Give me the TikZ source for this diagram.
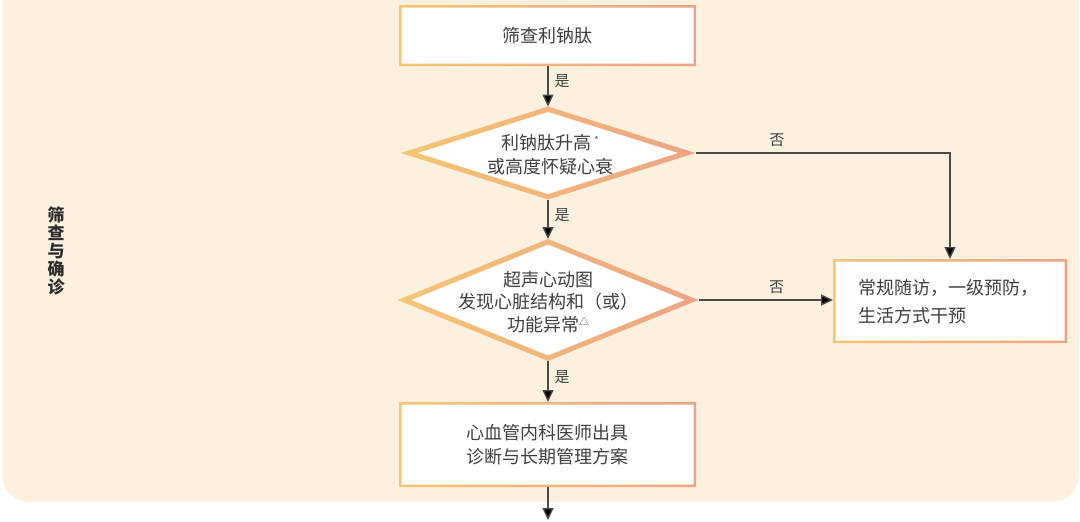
\documentclass[tikz,border=0pt]{standalone}
\usepackage{fontspec}
\setmainfont{Noto Sans CJK SC}
\usetikzlibrary{arrows.meta,shapes.geometric,calc}
\definecolor{panel}{HTML}{FBF1DE}
\definecolor{gl}{HTML}{F6C673}
\definecolor{gr}{HTML}{EEA383}
\definecolor{txt}{HTML}{404040}
\definecolor{ln}{HTML}{4A4A4A}
\begin{document}
\begin{tikzpicture}[x=1pt,y=-1pt,
  box/.style={rectangle, fill=white, inner sep=0pt, outer sep=0pt, text=txt, align=center},
  dia/.style={diamond, fill=white, inner sep=0pt, outer sep=0pt},
  dtext/.style={text=txt, align=center, inner sep=0pt},
  lbl/.style={text=txt, font=\fontsize{15}{18}\selectfont, inner sep=0pt},
  arr/.style={draw=ln, line width=1.4pt, -{Triangle[length=12pt,width=11pt,fill=black]}},
  ring/.style={left color=gl, right color=gr, even odd rule}
]
\useasboundingbox (0,0) rectangle (1080,522);
\fill[panel, rounded corners=27pt] (2,-40) rectangle (1079,502);

% side label
\node[text=txt!70!black, font=\fontsize{17}{17.8}\selectfont\bfseries, align=center, inner sep=0pt] (side) at (56,251) {筛\\查\\与\\确\\诊};

% nodes
\node[box, minimum width=297pt, minimum height=61pt, font=\fontsize{18}{24}\selectfont] (b1) at (547.5,35.5) {筛查利钠肽};
\node[dia, minimum width=295pt, minimum height=93pt] (d1) at (548,153) {};
\node[dtext, font=\fontsize{18}{24}\selectfont] (d1t) at (550,155) {利钠肽升高\hspace{3pt}\raisebox{6pt}{\fontsize{9}{9}\selectfont *}\\或高度怀疑心衰};
\node[dia, minimum width=301pt, minimum height=122pt] (d2) at (548,300) {};
\node[dtext, font=\fontsize{18}{22.5}\selectfont] (d2t) at (548,302) {超声心动图\\发现心脏结构和（或）\\功能异常\raisebox{6pt}{\fontsize{10}{10}\selectfont △}};
\node[box, minimum width=234pt, minimum height=84pt] (rb) at (950,301) {};
\node[text=txt, align=left, inner sep=0pt, anchor=west, font=\fontsize{18}{28}\selectfont] (rbt) at (858,302) {常规随访，一级预防，\\生活方式干预};
\node[box, minimum width=297pt, minimum height=85pt, font=\fontsize{18}{24}\selectfont] (b3) at (547.5,444.5) {心血管内科医师出具\\诊断与长期管理方案};
\coordinate (end) at (548,520);

% gradient borders
\path[ring] (b1.north west) rectangle (b1.south east)
  ($(b1.north west)+(2.5,2.5)$) rectangle ($(b1.south east)+(-2.5,-2.5)$);
\path[ring] (b3.north west) rectangle (b3.south east)
  ($(b3.north west)+(2.5,2.5)$) rectangle ($(b3.south east)+(-2.5,-2.5)$);
\path[ring] (rb.north west) rectangle (rb.south east)
  ($(rb.north west)+(2.5,2.5)$) rectangle ($(rb.south east)+(-2.5,-2.5)$);
\path[ring] (d1.north) -- (d1.east) -- (d1.south) -- (d1.west) -- cycle
  ($(d1.center)!0.885!(d1.north)$) -- ($(d1.center)!0.885!(d1.east)$) -- ($(d1.center)!0.885!(d1.south)$) -- ($(d1.center)!0.885!(d1.west)$) -- cycle;
\path[ring] (d2.north) -- (d2.east) -- (d2.south) -- (d2.west) -- cycle
  ($(d2.center)!0.91!(d2.north)$) -- ($(d2.center)!0.91!(d2.east)$) -- ($(d2.center)!0.91!(d2.south)$) -- ($(d2.center)!0.91!(d2.west)$) -- cycle;

% connectors
\draw[arr] (b1.south -| d1.north) -- node[lbl, pos=0.37, anchor=west, xshift=6pt] {是} (d1.north);
\draw[arr] (d1.south) -- node[lbl, pos=0.4, anchor=west, xshift=6pt] {是} (d2.north);
\draw[arr] (d2.south) -- node[lbl, pos=0.4, anchor=west, xshift=6pt] {是} (b3.north -| d2.south);
\draw[arr] (b3.south -| d2.south) -- (end);
\draw[arr] (d1.east) -| node[lbl, pos=0.16, anchor=south, yshift=6pt] {否} (rb.north);
\draw[arr] (d2.east) -- node[lbl, pos=0.58, anchor=south, yshift=6pt] {否} (d2.east -| rb.west);
\end{tikzpicture}
\end{document}
